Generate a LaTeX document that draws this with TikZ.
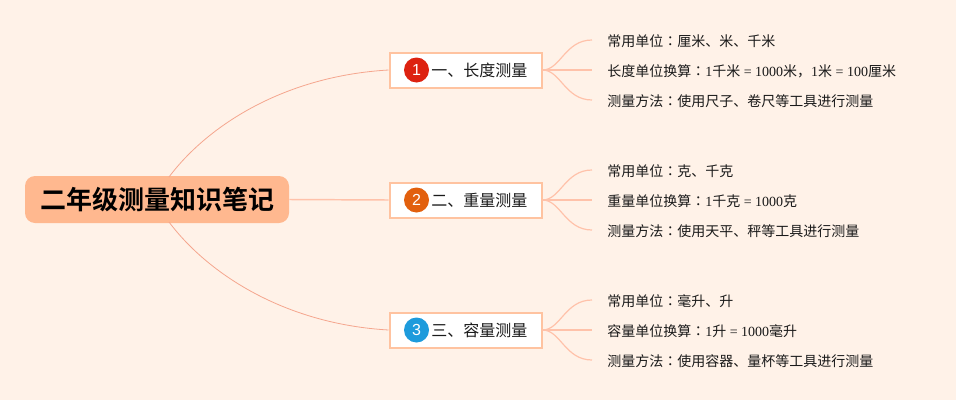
\documentclass[tikz,border=0pt]{standalone}
\usepackage{fontspec}
\setmainfont{Liberation Serif}
\setsansfont{Liberation Sans}
\newfontfamily\cjk{Noto Sans CJK SC}
\newfontfamily\cjkb{Noto Sans CJK SC Bold}
\newfontfamily\cjkjp{Noto Sans CJK JP}
\definecolor{bgc}{HTML}{FFF2E8}
\definecolor{rootc}{HTML}{FFB88F}
\definecolor{linec}{HTML}{FFC2AA}
\definecolor{thinc}{HTML}{F5A68E}
\definecolor{boxc}{HTML}{FFC3A0}
\definecolor{redc}{HTML}{DD2210}
\definecolor{orangec}{HTML}{E2600E}
\definecolor{bluec}{HTML}{1D9BDC}
\definecolor{txt}{HTML}{1A1A1A}
\tikzset{
  x=0.75pt,y=-0.75pt,
  rootnode/.style={fill=rootc,rounded corners=7.5pt,minimum width=198pt,minimum height=35.25pt,inner sep=0pt,text=black,font=\fontsize{19.5pt}{22pt}\cjkb},
  branch/.style={draw=boxc,line width=1.5pt,fill=white,minimum width=114pt,minimum height=26.25pt,inner sep=0pt},
  branchtext/.style={anchor=west,inner sep=0pt,text=txt,font=\fontsize{12pt}{14pt}\cjk},
  leaf/.style={anchor=west,inner sep=0pt,text=txt,font=\fontsize{10.5pt}{13pt}\cjk},
  badge/.style={circle,minimum size=18.75pt,inner sep=0pt,text=white,font=\fontsize{12pt}{14pt}\sffamily},
  mainline/.style={draw=thinc,line width=0.6pt},
  midline/.style={draw=linec,line width=1.1pt},
  subline/.style={draw=linec,line width=0.9pt},
}
\newcommand{\rmn}[1]{{\rmfamily #1}}
\newcommand{\clnc}{{\cjkjp ：}}
\begin{document}
\begin{tikzpicture}
\useasboundingbox (0,0) rectangle (956,400);
\fill[bgc] (0,0) rectangle (956,400);

\coordinate (rt) at (169,177);
\coordinate (rb) at (169,222);
\coordinate (l1a) at (592,40);  \coordinate (l1b) at (592,70);  \coordinate (l1c) at (592,100);
\coordinate (l2a) at (592,170); \coordinate (l2b) at (592,200); \coordinate (l2c) at (592,230);
\coordinate (l3a) at (592,300); \coordinate (l3b) at (592,330); \coordinate (l3c) at (592,360);

\node[branch] (b1) at (465.5,70) {};
\node[branch] (b2) at (465.5,200) {};
\node[branch] (b3) at (465.5,330) {};
\node[rootnode] (root) at (157,199.5) {二年级测量知识笔记};

\draw[mainline] (rt) .. controls (208,125) and (285,76) .. (b1.west);
\draw[mainline] (rb) .. controls (208,274) and (285,324) .. (b3.west);
\draw[midline] (root.east) -- (b2.west);

\foreach \b/\p/\q/\r in {b1/l1a/l1b/l1c,b2/l2a/l2b/l2c,b3/l3a/l3b/l3c}{
  \draw[subline] (\b.east) .. controls +(18,0) and ([xshift=-20.25pt]\p) .. (\p);
  \draw[midline] (\b.east) -- (\q);
  \draw[subline] (\b.east) .. controls +(18,0) and ([xshift=-20.25pt]\r) .. (\r);
}

\node[badge,fill=redc] (c1) at (416.5,70) {1};
\node[badge,fill=orangec] (c2) at (416.5,200) {2};
\node[badge,fill=bluec] (c3) at (416.5,330) {3};
\node[branchtext] (t1) at (431,70) {一、长度测量};
\node[branchtext] (t2) at (431,200) {二、重量测量};
\node[branchtext] (t3) at (431,330) {三、容量测量};

\node[leaf] (a1) at (607,41) {常用单位\clnc 厘米、米、千米};
\node[leaf] (a2) at (607,71) {长度单位换算\clnc\rmn{1}千米\rmn{ = 1000}米，\rmn{1}米\rmn{ = 100}厘米};
\node[leaf] (a3) at (607,101) {测量方法\clnc 使用尺子、卷尺等工具进行测量};
\node[leaf] (e1) at (607,171) {常用单位\clnc 克、千克};
\node[leaf] (e2) at (607,201) {重量单位换算\clnc\rmn{1}千克\rmn{ = 1000}克};
\node[leaf] (e3) at (607,231) {测量方法\clnc 使用天平、秤等工具进行测量};
\node[leaf] (g1) at (607,301) {常用单位\clnc 毫升、升};
\node[leaf] (g2) at (607,331) {容量单位换算\clnc\rmn{1}升\rmn{ = 1000}毫升};
\node[leaf] (g3) at (607,361) {测量方法\clnc 使用容器、量杯等工具进行测量};
\end{tikzpicture}
\end{document}
